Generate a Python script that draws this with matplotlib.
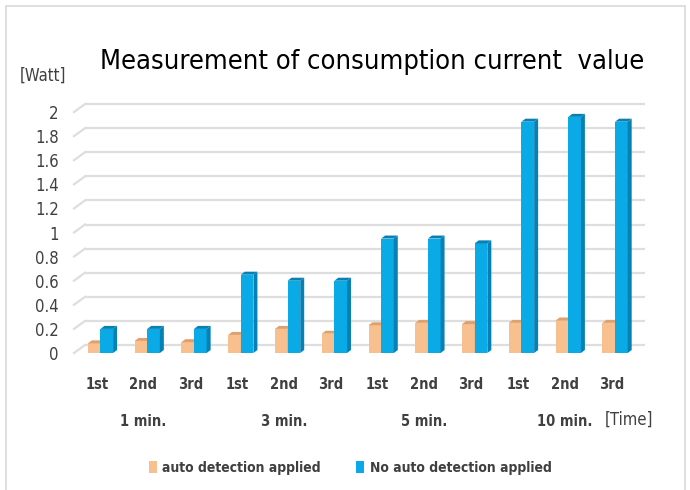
import matplotlib
matplotlib.use("Agg")
import matplotlib.pyplot as plt
from matplotlib.patches import Polygon, Rectangle
from matplotlib.transforms import blended_transform_factory
import numpy as np

# data
trials = ["1st", "2nd", "3rd"] * 4
groups = ["1 min.", "3 min.", "5 min.", "10 min."]
auto_detect = [0.08, 0.10, 0.09, 0.15, 0.20, 0.16, 0.23, 0.25, 0.24, 0.25, 0.27, 0.25]
no_auto_detect = [0.20, 0.20, 0.20, 0.65, 0.60, 0.60, 0.95, 0.95, 0.91, 1.92, 1.96, 1.92]
yticks = [0, 0.2, 0.4, 0.6, 0.8, 1, 1.2, 1.4, 1.6, 1.8, 2]

c_orange = "#F8C08E"
c_orange_dark = "#E0A06C"
c_blue = "#0AAAE6"
c_blue_dark = "#0781B3"
fnt = ["DejaVu Sans"]
st = "condensed"

fig = plt.figure(figsize=(6.9, 4.9), dpi=100)
W, H = 690, 490
ax = fig.add_axes([85 / W, 137 / H, 560 / W, 253 / H])
ax.set_xlim(-0.25, 11.72)
ax.set_ylim(0, 2.1)

# frame around the whole chart
fig.patches.append(Rectangle((6 / W, -0.01), 679 / W, 1 - 6 / H + 0.01,
                             transform=fig.transFigure, fill=False,
                             edgecolor="#D9D9D9", linewidth=1.2))

# back-wall gridlines with slanted floor segment
x0, x1 = ax.get_xlim()
back_dy = 8 / 120.5
slant_dx = 11 / 46.8
for v in yticks:
    ax.plot([x0, x1], [v + back_dy, v + back_dy], color="#DEDEDE", lw=1.6, zorder=0)
    ax.plot([x0 - slant_dx, x0], [v, v + back_dy], color="#DEDEDE", lw=1.6,
            zorder=0, clip_on=False)

# pseudo-3D bars
x = np.arange(len(trials))
bw = 0.27
shift = 0.08
dx = 4 / 46.8
dy = 3 / 120.5


def bar3d(left, h, face, side):
    ax.add_patch(Rectangle((left, 0), bw, h, facecolor=face, edgecolor="none", zorder=3))
    ax.add_patch(Polygon([(left + bw, 0), (left + bw + dx, dy), (left + bw + dx, h + dy),
                          (left + bw, h)], closed=True, facecolor=side,
                         edgecolor="none", zorder=3))
    ax.add_patch(Polygon([(left, h), (left + dx, h + dy), (left + bw + dx, h + dy),
                          (left + bw, h)], closed=True, facecolor=side,
                         edgecolor="none", zorder=3))


for i in range(len(x)):
    bar3d(x[i] + shift - bw, auto_detect[i], c_orange, c_orange_dark)
    bar3d(x[i] + shift, no_auto_detect[i], c_blue, c_blue_dark)

for s in ax.spines.values():
    s.set_visible(False)
ax.set_yticks(yticks)
ax.set_yticklabels([f"{v:g}" for v in yticks], family=fnt, stretch=st,
                   fontsize=12, color="#404040")
ax.set_xticks(x)
ax.set_xticklabels(trials, family=fnt, stretch=st, fontsize=10.5,
                   fontweight="bold", color="#404040")
ax.tick_params(axis="y", length=0, pad=19)
ax.tick_params(axis="x", length=0, pad=17)

tr = blended_transform_factory(ax.transData, fig.transFigure)
for g, name in enumerate(groups):
    ax.text(3 * g + 1, 1 - 421 / H, name, transform=tr, ha="center", va="center",
            family=fnt, stretch=st, fontsize=10.5, fontweight="bold", color="#404040")
fig.text(629 / W, 1 - 420 / H, "[Time]", ha="center", va="center",
         family=fnt, stretch=st, fontsize=12, color="#404040")
fig.text(43 / W, 1 - 76 / H, "[Watt]", ha="center", va="center",
         family=fnt, stretch=st, fontsize=12, color="#404040")

fig.text(372 / W, 1 - 62 / H, "Measurement of consumption current  value",
         ha="center", va="center", family=fnt, stretch=st, fontsize=19.5, color="black")

handles = [Rectangle((0, 0), 1, 1, facecolor=c_orange),
           Rectangle((0, 0), 1, 1, facecolor=c_blue)]
fig.legend(handles, ["auto detection applied", "No auto detection applied"],
           loc="center", bbox_to_anchor=(350 / W, 1 - 468 / H), ncol=2,
           frameon=False, handlelength=0.6, handleheight=0.9, handletextpad=0.4,
           columnspacing=2.5,
           prop={"family": fnt, "stretch": st, "size": 10, "weight": "bold"},
           labelcolor="#404040")

fig.savefig("out.png", dpi=100)
